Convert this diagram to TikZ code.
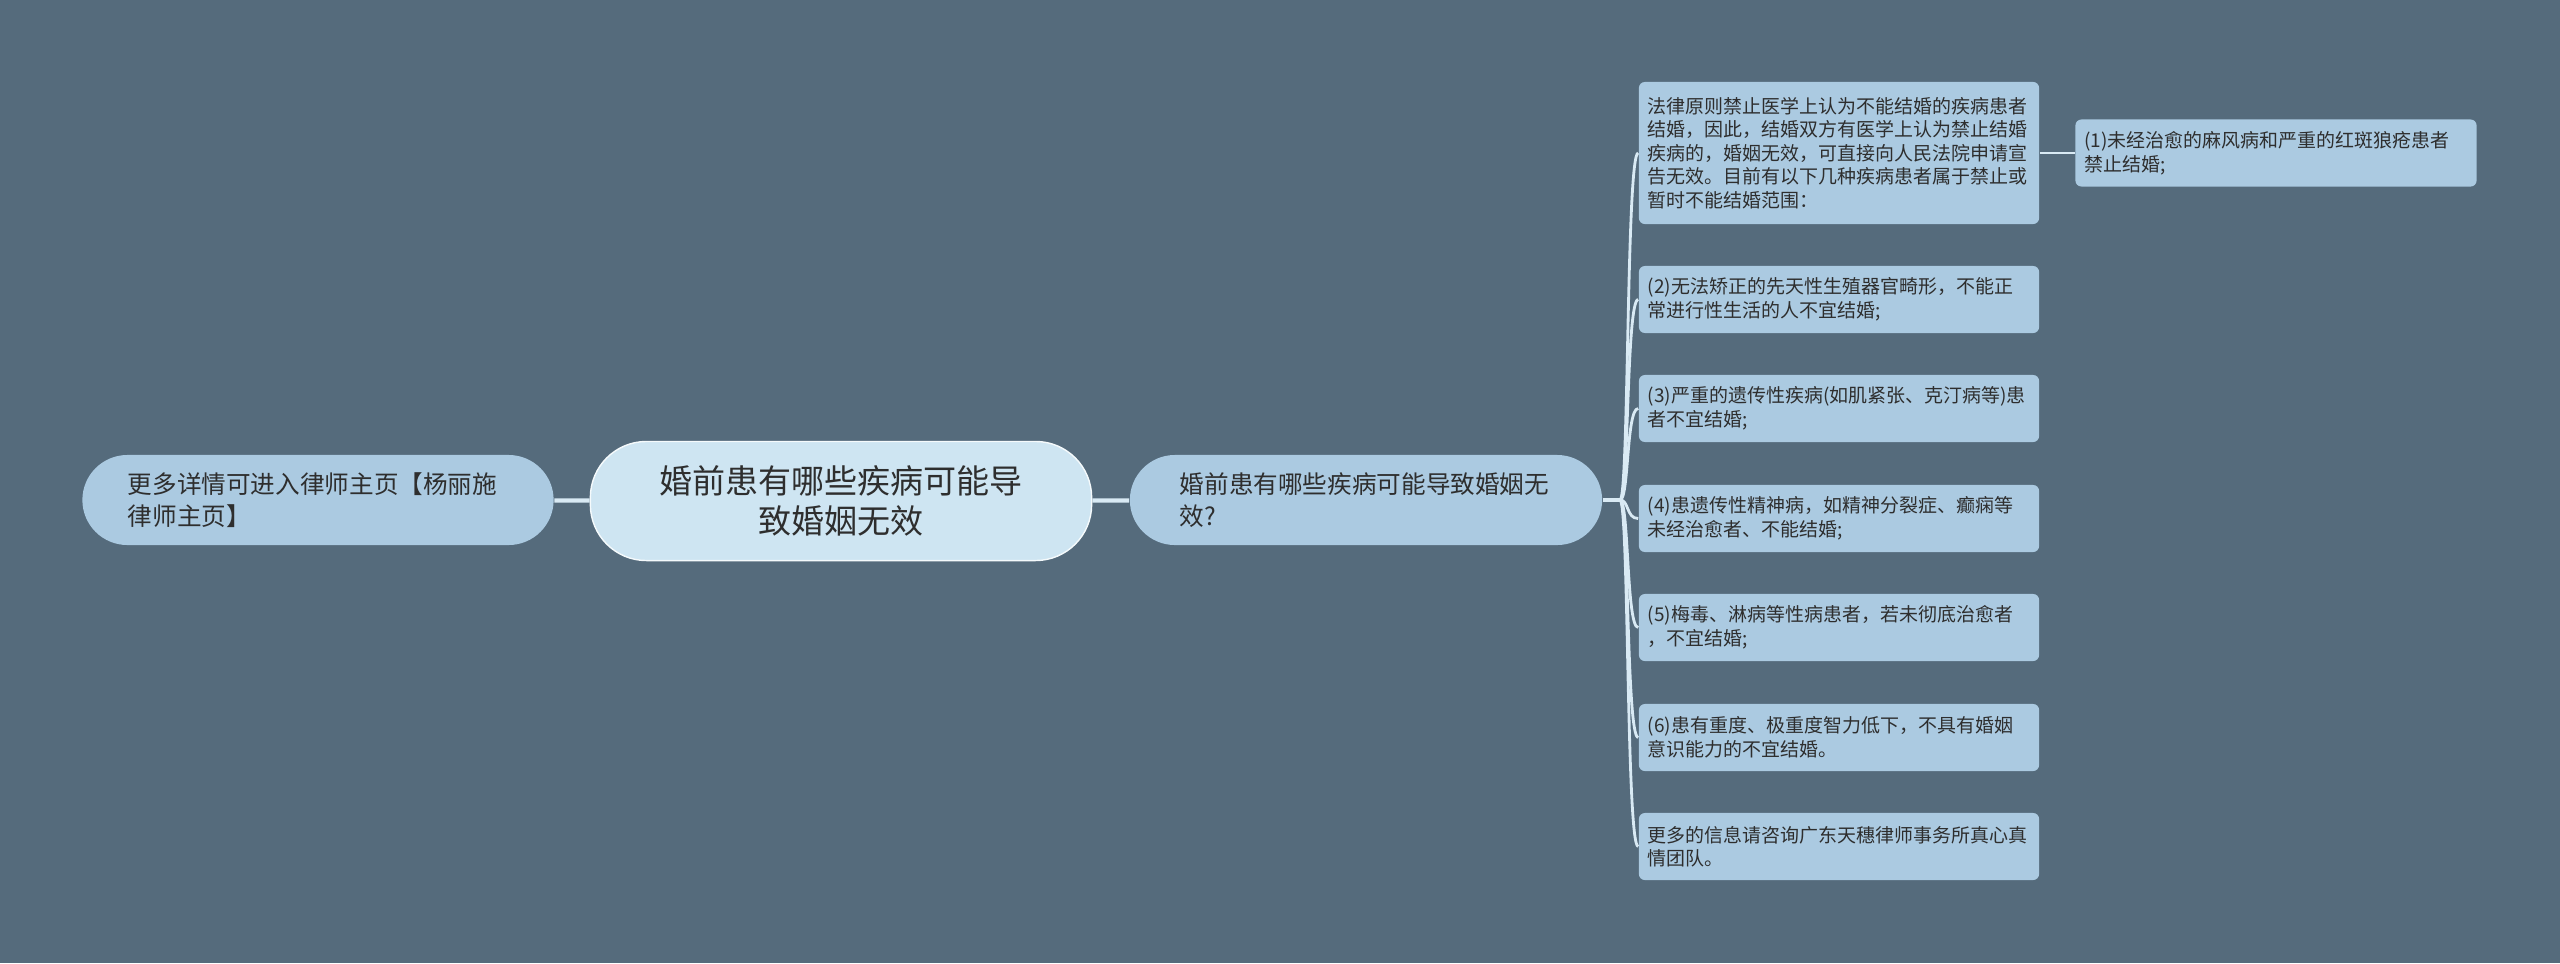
\documentclass[tikz,border=0pt]{standalone}
\usepackage{fontspec}
\setmainfont{Noto Sans CJK SC}
\definecolor{fundo}{HTML}{556B7C}
\definecolor{raizcor}{HTML}{CEE5F2}
\definecolor{ramocor}{HTML}{ABCAE1}
\definecolor{folhacor}{HTML}{ABCAE1}
\definecolor{linhacor}{HTML}{D9EAF4}
\definecolor{textocor}{HTML}{2E2E2E}

\begin{document}
\begin{tikzpicture}[x=0.01cm, y=-0.01cm,
            raiz/.style={rectangle, draw=white!80!raizcor, line width=0.4pt, fill=raizcor, text=textocor, minimum width=5.01cm, minimum height=1.19cm, text width=4.2cm, align=center, rounded corners=0.56cm, font=\fontsize{9.4pt}{11.4pt}\selectfont},
            ramo/.style={rectangle, fill=ramocor, text=textocor, minimum width=4.71cm, minimum height=0.9cm, align=left, rounded corners=0.45cm, font=\fontsize{7pt}{9.1pt}\selectfont},
            folha/.style={rectangle, fill=folhacor, text=textocor, minimum width=4cm, text width=3.82cm, inner xsep=0.09cm, align=left, rounded corners=0.06cm, font=\fontsize{5.4pt}{6.7pt}\selectfont},
            liga/.style={draw=linhacor, line width=1.2pt},
            curva/.style={draw=linhacor, line width=0.8pt}
        ]
        \fill[fundo] (0,0) rectangle (2560,963);

        % Centro
        \node[raiz] (root) at (841,501) {婚前患有哪些疾病可能导\\致婚姻无效};

        % Ramos principais
        \node[ramo, text width=3.8cm, inner xsep=0.45cm] (mais) at (318,500) {更多详情可进入律师主页【杨丽施\\律师主页】};
        \node[ramo, text width=3.72cm, inner xsep=0.5cm] (pergunta) at (1366,500) {婚前患有哪些疾病可能导致婚姻无\\效?};

        % Folhas
        \node[folha, minimum height=1.42cm] (lei) at (1839,153) {法律原则禁止医学上认为不能结婚的疾病患者\\结婚，因此，结婚双方有医学上认为禁止结婚\\疾病的，婚姻无效，可直接向人民法院申请宣\\告无效。目前有以下几种疾病患者属于禁止或\\暂时不能结婚范围：};
        \node[folha, minimum height=0.67cm] (item2) at (1839,299.5) {(2)无法矫正的先天性生殖器官畸形，不能正\\常进行性生活的人不宜结婚;};
        \node[folha, minimum height=0.67cm] (item3) at (1839,408.5) {(3)严重的遗传性疾病(如肌紧张、克汀病等)患\\者不宜结婚;};
        \node[folha, minimum height=0.67cm] (item4) at (1839,518.5) {(4)患遗传性精神病，如精神分裂症、癫痫等\\未经治愈者、不能结婚;};
        \node[folha, minimum height=0.67cm] (item5) at (1839,627.5) {(5)梅毒、淋病等性病患者，若未彻底治愈者\\，不宜结婚;};
        \node[folha, minimum height=0.67cm] (item6) at (1839,737.5) {(6)患有重度、极重度智力低下，不具有婚姻\\意识能力的不宜结婚。};
        \node[folha, minimum height=0.67cm] (consulta) at (1839,846.5) {更多的信息请咨询广东天穗律师事务所真心真\\情团队。};
        \node[folha, minimum height=0.67cm, text width=3.83cm] (item1) at (2276,153) {(1)未经治愈的麻风病和严重的红斑狼疮患者\\禁止结婚;};

        % Conexões
        \coordinate (junc) at (1620,500);
        \draw[liga] (mais) -- (root);
        \draw[liga] (root) -- (pergunta);
        \draw[liga] (pergunta) -- (junc);
        \foreach \f in {lei,item2,item3,item4,item5,item6,consulta}
            \draw[curva] (junc) .. controls +(9,0) and ([xshift=-0.12cm]\f.west) .. (\f.west);
        \draw[curva] (lei) -- (item1);

    \end{tikzpicture}
\end{document}
